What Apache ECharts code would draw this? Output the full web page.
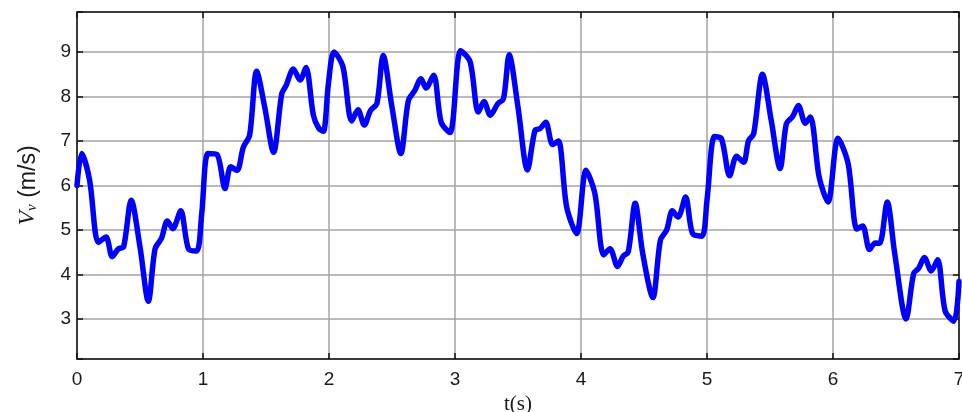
<!DOCTYPE html>
<html>
<head>
<meta charset="utf-8">
<script src="https://cdn.jsdelivr.net/npm/echarts@6/dist/echarts.min.js"></script>
<style>
  html, body { margin: 0; padding: 0; background: #fff; }
  #chart { width: 962px; height: 412px; }
</style>
</head>
<body>
<div id="chart"></div>
<script>
// Vehicle speed trace over 7 seconds
const timeS = [0, 0.037, 0.10, 0.17, 0.23, 0.28, 0.33, 0.37, 0.43, 0.50, 0.566, 0.62, 0.67, 0.717, 0.76, 0.823, 0.884, 0.95, 0.99, 1.04,
  1.11, 1.175, 1.22, 1.27, 1.32, 1.37, 1.426, 1.49, 1.56, 1.625, 1.66, 1.717, 1.77, 1.817, 1.876, 1.92, 1.955, 1.995, 2.04, 2.11,
  2.18, 2.23, 2.28, 2.33, 2.38, 2.43, 2.50, 2.57, 2.63, 2.68, 2.73, 2.77, 2.83, 2.89, 2.96, 3.045, 3.12, 3.185, 3.23, 3.28,
  3.34, 3.385, 3.43, 3.50, 3.575, 3.635, 3.675, 3.72, 3.775, 3.82, 3.886, 3.965, 4.04, 4.11, 4.18, 4.23, 4.29, 4.335, 4.375, 4.43,
  4.49, 4.57, 4.63, 4.68, 4.725, 4.77, 4.83, 4.885, 4.96, 5.00, 5.06, 5.115, 5.18, 5.235, 5.29, 5.33, 5.37, 5.44, 5.51, 5.58,
  5.63, 5.68, 5.725, 5.78, 5.82, 5.89, 5.96, 6.04, 6.12, 6.19, 6.235, 6.29, 6.335, 6.37, 6.43, 6.49, 6.58, 6.64, 6.68, 6.725,
  6.78, 6.83, 6.89, 6.96, 7.0];
const speedMs = [6.0, 6.72, 6.12, 4.72, 4.84, 4.4, 4.58, 4.62, 5.67, 4.62, 3.4, 4.58, 4.81, 5.2, 5.03, 5.43, 4.58, 4.53, 5.37, 6.72,
  6.7, 5.93, 6.42, 6.34, 6.86, 7.13, 8.57, 7.76, 6.75, 8.06, 8.25, 8.62, 8.37, 8.65, 7.58, 7.28, 7.22, 8.28, 9.0, 8.68,
  7.45, 7.7, 7.36, 7.69, 7.84, 8.92, 7.76, 6.72, 7.91, 8.13, 8.4, 8.19, 8.48, 7.42, 7.19, 9.03, 8.78, 7.65, 7.89, 7.58,
  7.84, 7.95, 8.94, 7.76, 6.35, 7.24, 7.28, 7.42, 6.92, 7.0, 5.52, 4.92, 6.34, 5.82, 4.44, 4.58, 4.18, 4.41, 4.51, 5.6,
  4.47, 3.48, 4.77, 5.0, 5.43, 5.29, 5.74, 4.92, 4.86, 5.67, 7.1, 7.05, 6.22, 6.66, 6.52, 7.01, 7.16, 8.5, 7.46, 6.38,
  7.39, 7.55, 7.8, 7.4, 7.54, 6.19, 5.63, 7.06, 6.49, 5.02, 5.09, 4.56, 4.71, 4.7, 5.63, 4.47, 3.0, 4.02, 4.14, 4.38,
  4.08, 4.33, 3.18, 2.95, 3.84];

const xTicks = [0, 7, 1];      // min, max, step of the time axis
const yRange = [2.1, 9.9];     // speed axis extent

const series = timeS.map((t, i) => [t, speedMs[i]]);

const chart = echarts.init(document.getElementById('chart'), null, { renderer: 'canvas' });

const labelFont = { fontFamily: 'Liberation Sans, Arial, sans-serif', fontSize: 19, color: '#1a1a1a' };
const frameLine = { show: true, onZero: false, lineStyle: { color: '#111', width: 1.5 } };
const gridLine = { show: true, lineStyle: { color: '#a3a3a3', width: 1.5 } };
const inTick = { show: true, inside: true, length: 6, lineStyle: { color: '#111', width: 1.5 } };

chart.setOption({
  animation: false,
  backgroundColor: '#fff',
  grid: { left: 77, top: 12, right: 3, bottom: 53, containLabel: false, outerBoundsMode: 'none' },
  xAxis: [
    {
      type: 'value', min: xTicks[0], max: xTicks[1], interval: xTicks[2],
      position: 'bottom',
      axisLine: frameLine, axisTick: inTick, splitLine: gridLine,
      axisLabel: Object.assign({ margin: 11 }, labelFont),
      name: 't(s)', nameLocation: 'middle', nameGap: 25,
      nameTextStyle: { fontFamily: 'Liberation Serif, Times New Roman, serif', fontSize: 21, color: '#1a1a1a' }
    },
    {
      type: 'value', min: xTicks[0], max: xTicks[1], interval: xTicks[2],
      position: 'top',
      axisLine: frameLine, axisTick: inTick, splitLine: { show: false }, axisLabel: { show: false }
    }
  ],
  yAxis: [
    {
      type: 'value', min: yRange[0], max: yRange[1],
      minInterval: 1, maxInterval: 1, splitNumber: 8,
      position: 'left',
      axisLine: frameLine, axisTick: inTick, splitLine: gridLine,
      axisLabel: Object.assign({
        margin: 6,
        formatter: v => (Math.abs(v - Math.round(v)) < 1e-6 ? String(Math.round(v)) : '')
      }, labelFont),
      name: '{i|V}{s|v}{n| (m/s)}', nameLocation: 'middle', nameRotate: 90, nameGap: 37,
      nameTextStyle: {
        rich: {
          i: { fontFamily: 'Liberation Serif, serif', fontStyle: 'italic', fontSize: 24, color: '#1a1a1a', verticalAlign: 'bottom', lineHeight: 28 },
          s: { fontFamily: 'Liberation Serif, serif', fontStyle: 'italic', fontSize: 15, color: '#1a1a1a', verticalAlign: 'bottom', lineHeight: 22 },
          n: { fontFamily: 'Liberation Sans, Arial, sans-serif', fontSize: 23, color: '#1a1a1a', verticalAlign: 'bottom', lineHeight: 28 }
        }
      }
    },
    {
      type: 'value', min: yRange[0], max: yRange[1],
      minInterval: 1, maxInterval: 1, splitNumber: 8,
      position: 'right',
      axisLine: frameLine, axisTick: inTick, splitLine: { show: false }, axisLabel: { show: false }
    }
  ],
  series: [{
    type: 'line',
    data: series,
    xAxisIndex: 0, yAxisIndex: 0,
    smooth: 0.3,
    showSymbol: false,
    clip: true,
    lineStyle: { color: '#0000ff', width: 5.5, join: 'round', cap: 'round' }
  }]
});
</script>
</body>
</html>
